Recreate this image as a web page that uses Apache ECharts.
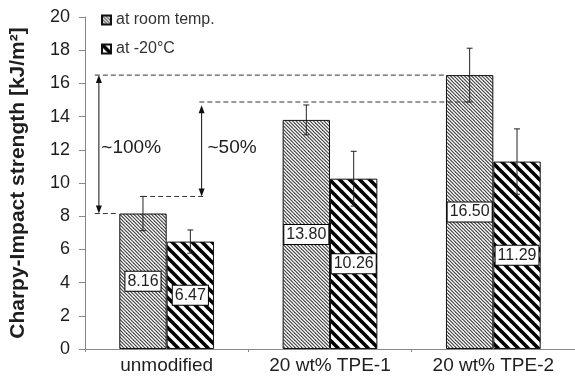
<!DOCTYPE html>
<html><head><meta charset="utf-8">
<script src="https://cdn.jsdelivr.net/npm/echarts@6/dist/echarts.min.js"></script>
<style>html,body{margin:0;padding:0;background:#fff}#c{width:575px;height:378px}</style>
</head><body><div id="c"></div>
<script>
// ---- data ----
const categories = ['unmodified', '20 wt% TPE-1', '20 wt% TPE-2'];
const seriesNames = ['at room temp.', 'at -20°C'];
const roomTemp = [8.16, 13.80, 16.50];
const minus20 = [6.47, 10.26, 11.29];
const roomErr = [1.03, 0.90, 1.62];
const minus20Err = [0.70, 1.65, 1.97];
const yTicks = [0, 2, 4, 6, 8, 10, 12, 14, 16, 18, 20];
// annotation positions along the category axis (in category units, 0..3)
const guideLines = [ // [xStart, xEnd, yValue]
  [0.06, 2.21, roomTemp[2]],
  [0.70, 2.36, roomTemp[2] - roomErr[2]],
  [0.06, 0.205, roomTemp[0]],
  [0.35, 0.74, roomTemp[0] + roomErr[0]]
];
const arrows = [ // [x, yLow, yHigh]
  [0.085, roomTemp[0], roomTemp[2]],
  [0.714, roomTemp[0] + roomErr[0], roomTemp[2] - roomErr[2] - 0.2]
];
const notes = [ // [x, y, text]
  [0.10, 12.1, '~100%'],
  [0.75, 12.1, '~50%']
];

const FONT = "'Liberation Sans', Arial, sans-serif";
const TXT = '#1e1e1e';

function hatch(tile, lines, color, width, bg) {
  const c = document.createElement('canvas');
  c.width = tile; c.height = tile;
  const g = c.getContext('2d');
  g.fillStyle = bg; g.fillRect(0, 0, tile, tile);
  g.strokeStyle = color; g.lineWidth = width;
  const step = tile / lines;
  for (let k = -lines - 1; k <= lines + 1; k++) {
    const o = k * step;
    g.beginPath(); g.moveTo(o - tile, -tile); g.lineTo(o + 2 * tile, 2 * tile); g.stroke();
  }
  return c;
}
const fineHatch = { image: hatch(7, 2, '#444444', 1.2, '#ffffff'), repeat: 'repeat' };
const boldHatch = { image: hatch(10, 1, '#000000', 3.6, '#ffffff'), repeat: 'repeat' };

const CAT_GAP = 0.42;

function errRender(sign) {
  return function (params, api) {
    const i = api.value(0);
    const lo = api.coord([i, api.value(1)]);
    const hi = api.coord([i, api.value(2)]);
    const bw = api.size([1, 0])[0];
    const barW = bw * (1 - CAT_GAP) / 2;
    const x = lo[0] + sign * barW / 2;
    const st = { stroke: '#222', lineWidth: 1 };
    return { type: 'group', children: [
      { type: 'line', shape: { x1: x, y1: lo[1], x2: x, y2: hi[1] }, style: st },
      { type: 'line', shape: { x1: x - 3, y1: hi[1], x2: x + 3, y2: hi[1] }, style: st },
      { type: 'line', shape: { x1: x - 3, y1: lo[1], x2: x + 3, y2: lo[1] }, style: st }
    ]};
  };
}

const labelStyle = {
  show: true, position: 'inside', formatter: p => p.value.toFixed(2),
  backgroundColor: '#fff', borderColor: '#000', borderWidth: 1,
  padding: [2, 2, 1, 2], fontSize: 16, color: TXT, fontFamily: FONT
};

const chart = echarts.init(document.getElementById('c'), null, { renderer: 'canvas' });
chart.setOption({
  animation: false,
  backgroundColor: '#fff',
  textStyle: { fontFamily: FONT },
  grid: { left: 80, right: -3, top: 17, bottom: 29 },
  legend: {
    data: seriesNames, orient: 'vertical', left: 101, top: 12,
    itemWidth: 9, itemHeight: 9, itemGap: 13, icon: 'rect', padding: 0,
    textStyle: { fontSize: 16, color: '#333', fontFamily: FONT }
  },
  xAxis: [
    {
      type: 'category', data: categories,
      axisLine: { lineStyle: { color: '#888' } },
      axisTick: { show: true, length: 3, lineStyle: { color: '#888' } },
      axisLabel: { fontSize: 19, color: TXT, margin: 7, fontFamily: FONT }
    },
    { type: 'value', min: 0, max: 3, show: false, position: 'top' }
  ],
  yAxis: {
    type: 'value', min: yTicks[0], max: yTicks[yTicks.length - 1], interval: 2,
    name: 'Charpy-Impact strength [kJ/m²]', nameLocation: 'middle', nameGap: 56,
    nameTextStyle: { fontSize: 21, fontWeight: 'bold', color: TXT, fontFamily: FONT },
    axisLine: { show: true, lineStyle: { color: '#888' } },
    axisTick: { show: true, length: 6, lineStyle: { color: '#888' } },
    splitLine: { show: false },
    axisLabel: { fontSize: 18, color: TXT, margin: 15, fontFamily: FONT }
  },
  series: [
    {
      name: seriesNames[0], type: 'bar', data: roomTemp,
      barGap: '0%', barCategoryGap: (CAT_GAP * 100) + '%',
      itemStyle: { color: fineHatch, borderColor: '#111', borderWidth: 1 },
      label: labelStyle, z: 2
    },
    {
      name: seriesNames[1], type: 'bar', data: minus20,
      itemStyle: { color: boldHatch, borderColor: '#111', borderWidth: 1 },
      label: labelStyle, z: 2
    },
    {
      type: 'custom', name: 'errRoom', z: 4,
      data: roomTemp.map((v, i) => [i, v - roomErr[i], v + roomErr[i]]),
      encode: { x: 0, y: [1, 2] }, renderItem: errRender(-1)
    },
    {
      type: 'custom', name: 'errCold', z: 4,
      data: minus20.map((v, i) => [i, v - minus20Err[i], v + minus20Err[i]]),
      encode: { x: 0, y: [1, 2] }, renderItem: errRender(1)
    },
    {
      type: 'custom', name: 'guides', xAxisIndex: 1, z: 5,
      data: guideLines, encode: { x: [0, 1], y: 2 },
      renderItem: function (params, api) {
        const a = api.coord([api.value(0), api.value(2)]);
        const b = api.coord([api.value(1), api.value(2)]);
        return { type: 'line', shape: { x1: a[0], y1: a[1], x2: b[0], y2: b[1] },
          style: { stroke: '#333', lineWidth: 1, lineDash: [5, 3] } };
      }
    },
    {
      type: 'custom', name: 'arrows', xAxisIndex: 1, z: 5,
      data: arrows, encode: { x: 0, y: [1, 2] },
      renderItem: function (params, api) {
        const lo = api.coord([api.value(0), api.value(1)]);
        const hi = api.coord([api.value(0), api.value(2)]);
        const x = lo[0];
        return { type: 'group', children: [
          { type: 'line', shape: { x1: x, y1: lo[1] - 6, x2: x, y2: hi[1] + 6 }, style: { stroke: '#111', lineWidth: 1 } },
          { type: 'polygon', shape: { points: [[x, hi[1]], [x - 3, hi[1] + 8], [x + 3, hi[1] + 8]] }, style: { fill: '#111' } },
          { type: 'polygon', shape: { points: [[x, lo[1]], [x - 3, lo[1] - 8], [x + 3, lo[1] - 8]] }, style: { fill: '#111' } }
        ]};
      }
    },
    {
      type: 'custom', name: 'notes', xAxisIndex: 1, z: 5,
      data: notes.map(n => [n[0], n[1]]), encode: { x: 0, y: 1 },
      renderItem: function (params, api) {
        const p = api.coord([api.value(0), api.value(1)]);
        return { type: 'text', x: p[0], y: p[1],
          style: { text: notes[params.dataIndex][2], fontSize: 19, fontFamily: FONT, fill: TXT,
            textAlign: 'left', textVerticalAlign: 'middle' } };
      }
    }
  ]
});
</script></body></html>
